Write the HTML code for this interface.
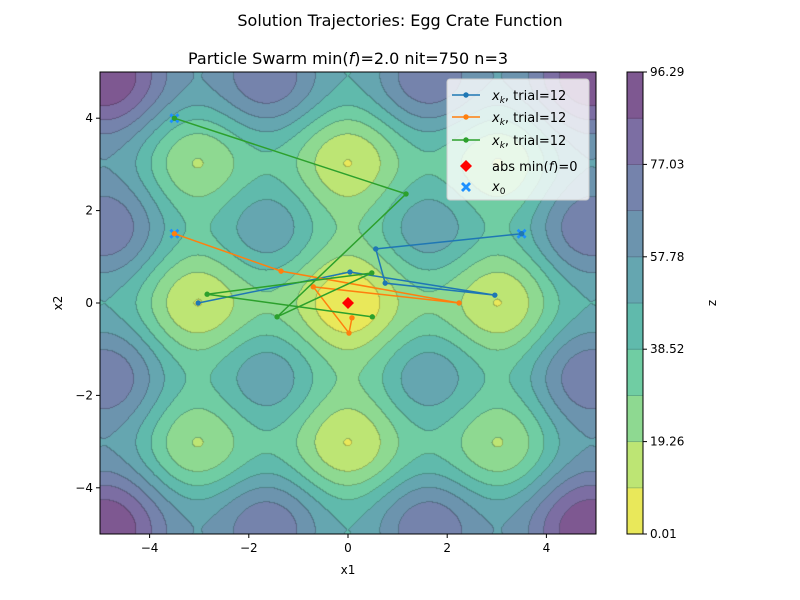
<!DOCTYPE html>
<html><head><meta charset="utf-8"><style>
body{margin:0;background:#fff;font-family:"Liberation Sans","DejaVu Sans",sans-serif;}
#wrap{position:relative;width:800px;height:600px;overflow:hidden}
svg text{font-family:"DejaVu Sans","Liberation Sans",sans-serif}
</style></head><body>
<div id="wrap">
<canvas id="cv" width="496" height="462" style="position:absolute;left:100px;top:72px"></canvas>
<svg id="sv" width="800" height="600" style="position:absolute;left:0;top:0"></svg>
</div>
<script>
const xTicks=[-4,-2,0,2,4];
const yTicks=[-4,-2,0,2,4];
const cbTicks=["0.01","19.26","38.52","57.78","77.03","96.29"];
const levelMin=0.01, levelMax=96.29, nBands=10;
const blueX=[3.5,0.56,0.75,2.96,0.04,-3.02];
const blueY=[1.5,1.17,0.43,0.17,0.67,0.0];
const orangeX=[-3.5,-1.35,2.24,-0.7,0.02,0.08];
const orangeY=[1.5,0.69,0.0,0.35,-0.65,-0.32];
const greenX=[-3.5,1.17,-1.43,0.48,-2.84,0.49];
const greenY=[4.0,2.36,-0.3,0.65,0.19,-0.3];
const bandColors=[[233,232,90],[189,229,116],[142,217,145],[112,205,163],[96,186,172],[101,166,176],[108,148,174],[117,131,172],[124,110,163],[126,88,145]];

const L=100,T=72,W=496,H=462;
const sx=v=>L+(v+5)/10*W, sy=v=>T+(5-v)/10*H;
const f=(x,y)=>x*x+y*y+25*(Math.sin(x)**2+Math.sin(y)**2);
const band=v=>Math.max(0,Math.min(nBands-1,Math.floor((v-levelMin)/(levelMax-levelMin)*nBands)));

const cv=document.getElementById('cv'),ctx=cv.getContext('2d');
const img=ctx.createImageData(W,H);
const B=[];
for(let j=0;j<H;j++){B.push([]);for(let i=0;i<W;i++){const x=-5+(i+0.5)/W*10,y=5-(j+0.5)/H*10;B[j].push(band(f(x,y)));}}
for(let j=0;j<H;j++)for(let i=0;i<W;i++){
  const b=B[j][i];let c=bandColors[b];
  const edge=(i+1<W&&B[j][i+1]!=b)||(j+1<H&&B[j+1][i]!=b);
  const k=edge?0.78:1;const p=(j*W+i)*4;
  img.data[p]=c[0]*k;img.data[p+1]=c[1]*k;img.data[p+2]=c[2]*k;img.data[p+3]=255;}
ctx.putImageData(img,0,0);

const NS='http://www.w3.org/2000/svg',sv=document.getElementById('sv');
function el(t,a,txt){const e=document.createElementNS(NS,t);for(const k in a)e.setAttribute(k,a[k]);if(txt!=null)e.textContent=txt;sv.appendChild(e);return e;}

let e=el('rect',{x:L,y:T,width:W,height:H,fill:'none',stroke:'#000','stroke-width':1});


xTicks.forEach(v=>{const x=sx(v);
  el('line',{x1:x,x2:x,y1:T+H,y2:T+H+4,stroke:'#000'});
  const t=el('text',{x:x,y:T+H+18,'text-anchor':'middle','font-size':12},v<0?'−'+(-v):''+v);
  
  });
yTicks.forEach(v=>{const y=sy(v);
  el('line',{x1:L-4,x2:L,y1:y,y2:y,stroke:'#000'});
  const t=el('text',{x:L-7,y:y+4,'text-anchor':'end','font-size':12},v<0?'−'+(-v):''+v);
  
  });
e=el('text',{x:348,y:574,'text-anchor':'middle','font-size':12},'x1');

e=el('text',{x:62,y:303,'text-anchor':'middle','font-size':12,transform:'rotate(-90 62 303)'},'x2');

e=el('text',{x:400,y:26,'text-anchor':'middle','font-size':16},'Solution Trajectories: Egg Crate Function');

e=el('text',{x:348,y:64,'text-anchor':'middle','font-size':16});
e.innerHTML='Particle Swarm min(<tspan font-style="italic">f</tspan>)=2.0 nit=750 n=3';


function xmark(x,y){const g=el('path',{d:`M${x-5},${y-3}l2,-2l3,3l3,-3l2,2l-3,3l3,3l-2,2l-3,-3l-3,3l-2,-2l3,-3z`,fill:'#1e90ff'});
  
  }
[[blueX[0],blueY[0]],[orangeX[0],orangeY[0]],[greenX[0],greenY[0]]].forEach(p=>xmark(sx(p[0]),sy(p[1])));

function traj(xs,ys,col,name){
  const pts=xs.map((x,i)=>sx(x)+','+sy(ys[i])).join(' ');
  const p=el('polyline',{points:pts,fill:'none',stroke:col,'stroke-width':1.5});
  
  
  xs.forEach((x,i)=>{const c=el('circle',{cx:sx(x),cy:sy(ys[i]),r:2.7,fill:col});
    
    });
}
traj(blueX,blueY,'#1f77b4','trajectory-blue');
traj(orangeX,orangeY,'#ff7f0e','trajectory-orange');
traj(greenX,greenY,'#2ca02c','trajectory-green');
const mx=sx(0),my=sy(0);
e=el('path',{d:`M${mx},${my-6}L${mx+6},${my}L${mx},${my+6}L${mx-6},${my}Z`,fill:'#ff0000'});


e=el('rect',{x:447,y:79,width:142,height:121,rx:3,fill:'rgba(255,255,255,0.8)',stroke:'#ccc'});

[['#1f77b4',95],['#ff7f0e',117],['#2ca02c',140]].forEach(([c,y])=>{
  el('line',{x1:452,x2:480,y1:y,y2:y,stroke:c,'stroke-width':1.5});
  el('circle',{cx:466,cy:y,r:2.7,fill:c});
  const t=el('text',{x:492,y:y+5,'font-size':13});
  t.innerHTML='<tspan font-style="italic">x</tspan><tspan font-style="italic" font-size="9" dy="3">k</tspan><tspan dy="-3">, trial=12</tspan>';
  
  });
el('path',{d:'M466,160L472,166L466,172L460,166Z',fill:'#ff0000'});
e=el('text',{x:492,y:171,'font-size':13});e.innerHTML='abs min(<tspan font-style="italic">f</tspan>)=0';

xmark(466,187);
e=el('text',{x:492,y:191,'font-size':13});e.innerHTML='<tspan font-style="italic">x</tspan><tspan font-size="9" dy="3">0</tspan>';


const cbX=627,cbW=16;
for(let b=0;b<nBands;b++){const c=bandColors[b];
  const r=el('rect',{x:cbX,y:T+H-(b+1)*H/nBands,width:cbW,height:H/nBands+0.5,fill:`rgb(${c})`});
  
  
  if(b>0){const yy=T+H-b*H/nBands;el('line',{x1:cbX,x2:cbX+cbW,y1:yy,y2:yy,stroke:`rgb(${c.map(v=>v*0.8)})`,'stroke-width':0.8});}}
el('rect',{x:cbX,y:T,width:cbW,height:H,fill:'none',stroke:'#000'});
cbTicks.forEach((t,i)=>{const y=T+H-i*H/(cbTicks.length-1);
  el('line',{x1:cbX+cbW,x2:cbX+cbW+4,y1:y,y2:y,stroke:'#000'});
  const tt=el('text',{x:cbX+cbW+7,y:y+4,'font-size':12},t);
  
  });
e=el('text',{x:716,y:303,'text-anchor':'middle','font-size':12,transform:'rotate(-90 716 303)'},'z');

</script>
</body></html>
